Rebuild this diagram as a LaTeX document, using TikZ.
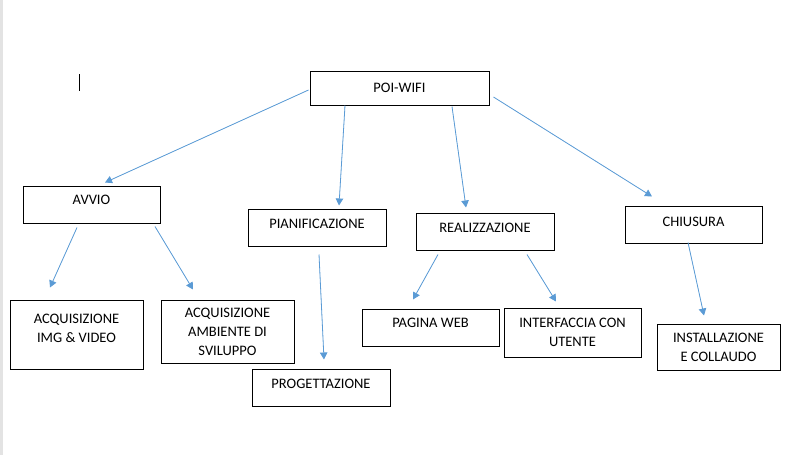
\documentclass[tikz,border=0pt]{standalone}
\usepackage{fontspec}
\setmainfont{Carlito}
\usepackage{xcolor}
\usetikzlibrary{arrows.meta}

\definecolor{linkblue}{HTML}{5B9BD5}

\begin{document}
\begin{tikzpicture}[
  x=1pt, y=1pt,
  box/.style={rectangle, draw, line width=1pt, align=center, inner sep=2pt, font=\fontsize{14.5}{19}\selectfont},
  lift/.style={text depth=#1},
  link/.style={draw=linkblue, line width=0.8pt, -{Triangle[length=7pt, width=7.5pt]}, fill=linkblue}
]
  \useasboundingbox (0,0) rectangle (789,-455);
  \fill[gray!22] (0,0) rectangle (3,-455);
  \draw[line width=0.8pt] (79,-74) -- (79,-91);

  \node[box, minimum width=179, minimum height=34] (poi) at (399.5,-88) {POI-WIFI};

  \node[box, lift=9pt, minimum width=137, minimum height=37] (avvio)  at (91.5,-204.5)  {AVVIO};
  \node[box, lift=8pt, minimum width=138, minimum height=37] (pian)   at (317,-227.5)   {PIANIFICAZIONE};
  \node[box, lift=7pt, minimum width=138, minimum height=37] (real)   at (485,-231.5)   {REALIZZAZIONE};
  \node[box, lift=5pt, minimum width=137, minimum height=37] (chius)  at (693.5,-224.5) {CHIUSURA};

  \node[box, lift=12pt, minimum width=133, minimum height=69] (acqimg) at (76.5,-334.5) {ACQUISIZIONE\\IMG \& VIDEO};
  \node[box, minimum width=133, minimum height=63] (acqamb) at (227.5,-331.5) {ACQUISIZIONE\\AMBIENTE DI\\SVILUPPO};
  \node[box, lift=7pt, minimum width=138, minimum height=37] (prog)   at (321,-387.5)   {PROGETTAZIONE};
  \node[box, lift=9pt, minimum width=137, minimum height=37] (pagina) at (430.5,-327.5) {PAGINA WEB};
  \node[box, minimum width=137, minimum height=49] (interf) at (572.5,-332.5) {INTERFACCIA CON\\UTENTE};
  \node[box, minimum width=123, minimum height=46] (install) at (718.5,-347) {INSTALLAZIONE\\E COLLAUDO};

  \draw[link] ([shift={(-1,-2)}]poi.west) -- ([shift={(13.5,3)}]avvio.north);
  \draw[link] ([shift={(-54.5,0)}]poi.south) -- ([shift={(22,3)}]pian.north);
  \draw[link] ([shift={(52.5,-1)}]poi.south) -- ([shift={(-19,5)}]real.north);
  \draw[link] ([shift={(4,-9)}]poi.east) -- ([shift={(-41.5,9)}]chius.north);

  \draw[link] ([shift={(-14.5,-4)}]avvio.south) -- ([shift={(-26.5,12)}]acqimg.north);
  \draw[link] ([shift={(63.5,-3)}]avvio.south) -- ([shift={(-34.5,10)}]acqamb.north);
  \draw[link] ([shift={(2,-8)}]pian.south) -- ([shift={(3,9)}]prog.north);
  \draw[link] ([shift={(-47,-4)}]real.south) -- ([shift={(-17.5,9)}]pagina.north);
  \draw[link] ([shift={(42,-4)}]real.south) -- ([shift={(-16.5,6)}]interf.north);
  \draw[link] ([shift={(-5.5,1)}]chius.south) -- ([shift={(-14.5,8)}]install.north);
\end{tikzpicture}
\end{document}
